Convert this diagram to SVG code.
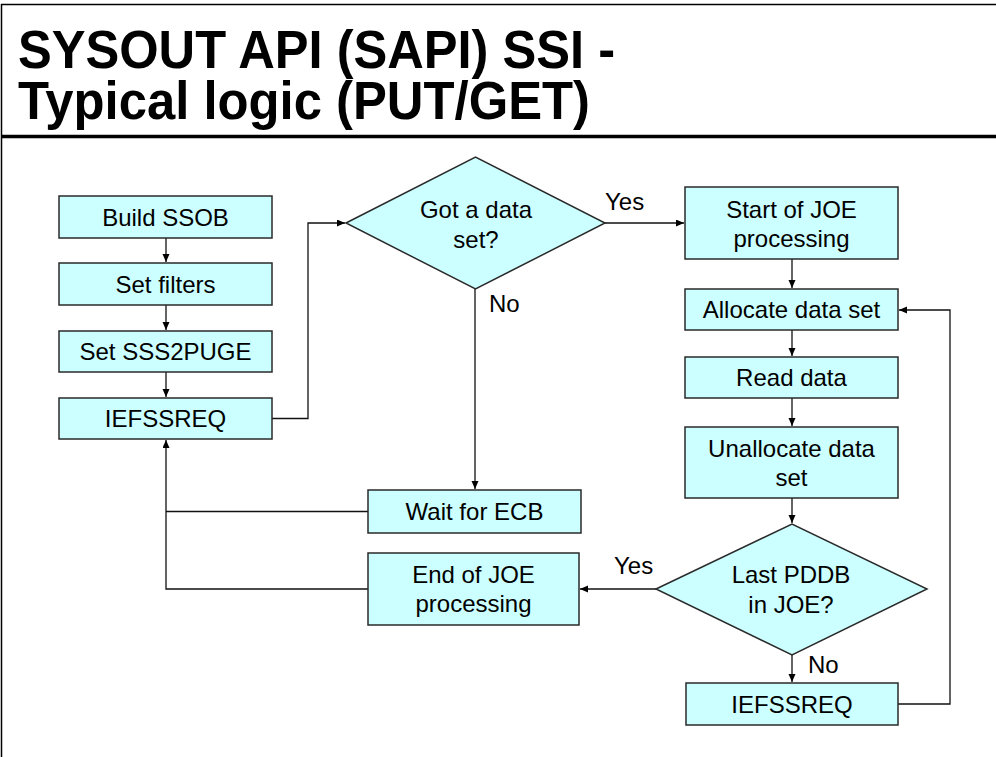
<svg xmlns="http://www.w3.org/2000/svg" width="996" height="757" viewBox="0 0 996 757">
  <style>
    .node rect, .node polygon { fill: #CCFFFF; stroke: #2a2a2a; stroke-width: 1.5; }
    .node text, .label { font-family: "Liberation Sans", Arial, sans-serif; font-size: 24px; fill: #000; }
    .node text { text-anchor: middle; }
    .title { font-family: "Liberation Sans", Arial, sans-serif; font-size: 54px; font-weight: bold; fill: #000; }
    .conn { fill: none; stroke: #111; stroke-width: 1.3; }
    .frame { fill: none; stroke: #000; }
  </style>
  <defs>
    <marker id="arrow" markerUnits="userSpaceOnUse" markerWidth="9" markerHeight="8" refX="8" refY="3.5" orient="auto">
      <path d="M0,0 L8,3.5 L0,7 z" fill="#000"/>
    </marker>
  </defs>

  <rect width="996" height="757" fill="#fff"/>

  <!-- slide frame and title rule -->
  <g id="frame">
    <line class="frame" x1="1" y1="4.5" x2="996" y2="4.5" stroke-width="1.5"/>
    <line class="frame" x1="1.5" y1="4" x2="1.5" y2="757" stroke-width="1.5"/>
    <line class="frame" x1="1" y1="136.5" x2="996" y2="136.5" stroke-width="3.5"/>
  </g>

  <g id="title">
    <text class="title" x="18" y="68" textLength="597" lengthAdjust="spacingAndGlyphs">SYSOUT API (SAPI) SSI -</text>
    <text class="title" x="18" y="119" textLength="572" lengthAdjust="spacingAndGlyphs">Typical logic (PUT/GET)</text>
  </g>

  <!-- connectors -->
  <g id="connectors">
    <line class="conn" x1="166" y1="238" x2="166" y2="262" marker-end="url(#arrow)"/>
    <line class="conn" x1="166" y1="305" x2="166" y2="330" marker-end="url(#arrow)"/>
    <line class="conn" x1="166" y1="372" x2="166" y2="397" marker-end="url(#arrow)"/>
    <polyline class="conn" points="272,418.5 308,418.5 308,223 345,223" marker-end="url(#arrow)"/>
    <line class="conn" x1="605" y1="223" x2="684" y2="223" marker-end="url(#arrow)"/>
    <line class="conn" x1="475" y1="289" x2="475" y2="489" marker-end="url(#arrow)"/>
    <line class="conn" x1="792" y1="259" x2="792" y2="288" marker-end="url(#arrow)"/>
    <line class="conn" x1="792" y1="330" x2="792" y2="356" marker-end="url(#arrow)"/>
    <line class="conn" x1="792" y1="398" x2="792" y2="426" marker-end="url(#arrow)"/>
    <line class="conn" x1="792" y1="498" x2="792" y2="523" marker-end="url(#arrow)"/>
    <line class="conn" x1="792" y1="655" x2="792" y2="682" marker-end="url(#arrow)"/>
    <polyline class="conn" points="898,704 950,704 950,310 899,310" marker-end="url(#arrow)"/>
    <line class="conn" x1="656" y1="589" x2="580" y2="589" marker-end="url(#arrow)"/>
    <polyline class="conn" points="368,511.5 166,511.5"/>
    <polyline class="conn" points="368,589 166,589 166,440" marker-end="url(#arrow)"/>
  </g>

  <g id="build-ssob" class="node">
    <rect x="59" y="196" width="213" height="42"/>
    <text x="165.5" y="225.5">Build SSOB</text>
  </g>
  <g id="set-filters" class="node">
    <rect x="59" y="263" width="213" height="42"/>
    <text x="165.5" y="292.5">Set filters</text>
  </g>
  <g id="set-sss2puge" class="node">
    <rect x="59" y="331" width="213" height="41"/>
    <text x="165.5" y="360">Set SSS2PUGE</text>
  </g>
  <g id="iefssreq-1" class="node">
    <rect x="59" y="398" width="213" height="41"/>
    <text x="165.5" y="427">IEFSSREQ</text>
  </g>

  <g id="got-data-set" class="node">
    <polygon points="346,223 475.5,157 605,223 475.5,289"/>
    <text x="476" y="218">Got a data</text>
    <text x="476" y="248">set?</text>
  </g>

  <g id="wait-ecb" class="node">
    <rect x="368" y="490" width="213" height="43"/>
    <text x="474.5" y="520">Wait for ECB</text>
  </g>
  <g id="end-joe" class="node">
    <rect x="368" y="553" width="211" height="72"/>
    <text x="473.5" y="583">End of JOE</text>
    <text x="473.5" y="612">processing</text>
  </g>

  <g id="start-joe" class="node">
    <rect x="685" y="187" width="213" height="72"/>
    <text x="791.5" y="218">Start of JOE</text>
    <text x="791.5" y="247">processing</text>
  </g>
  <g id="allocate" class="node">
    <rect x="685" y="289" width="213" height="41"/>
    <text x="791.5" y="318">Allocate data set</text>
  </g>
  <g id="read-data" class="node">
    <rect x="685" y="357" width="213" height="41"/>
    <text x="791.5" y="386">Read data</text>
  </g>
  <g id="unallocate" class="node">
    <rect x="685" y="427" width="213" height="71"/>
    <text x="791.5" y="457">Unallocate data</text>
    <text x="791.5" y="486">set</text>
  </g>
  <g id="last-pddb" class="node">
    <polygon points="656,589 792,524 927,589 792,655"/>
    <text x="791" y="583">Last PDDB</text>
    <text x="791" y="613">in JOE?</text>
  </g>
  <g id="iefssreq-2" class="node">
    <rect x="686" y="683" width="212" height="42"/>
    <text x="792" y="713">IEFSSREQ</text>
  </g>

  <g id="labels">
    <text class="label" x="605" y="210">Yes</text>
    <text class="label" x="489" y="312">No</text>
    <text class="label" x="614" y="574">Yes</text>
    <text class="label" x="808" y="673">No</text>
  </g>
</svg>
